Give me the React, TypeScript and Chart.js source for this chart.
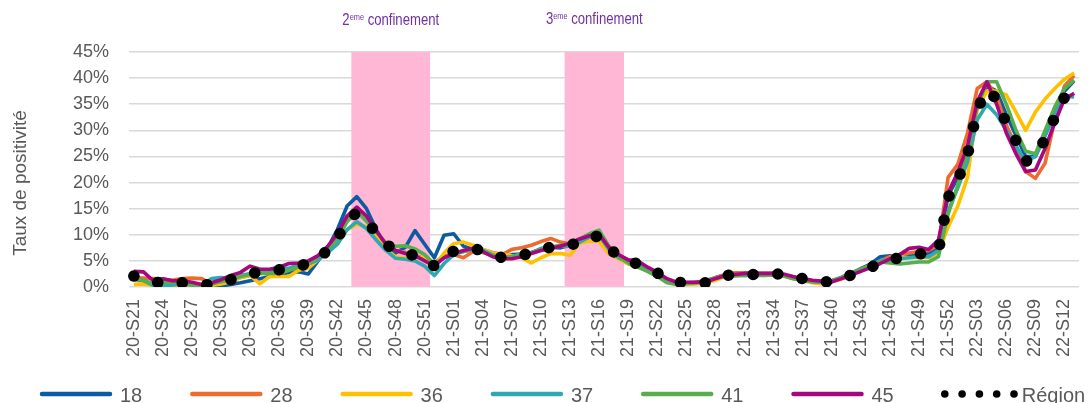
import React, { useEffect, useRef } from 'react';
import { Chart, registerables } from 'chart.js';

Chart.register(...registerables);

const weeks = [
  '20-S21','20-S22','20-S23','20-S24','20-S25','20-S26','20-S27','20-S28','20-S29','20-S30',
  '20-S31','20-S32','20-S33','20-S34','20-S35','20-S36','20-S37','20-S38','20-S39','20-S40',
  '20-S41','20-S42','20-S43','20-S44','20-S45','20-S46','20-S47','20-S48','20-S49','20-S50',
  '20-S51','20-S52','20-S53',
  '21-S01','21-S02','21-S03','21-S04','21-S05','21-S06','21-S07','21-S08','21-S09','21-S10',
  '21-S11','21-S12','21-S13','21-S14','21-S15','21-S16','21-S17','21-S18','21-S19','21-S20',
  '21-S21','21-S22','21-S23','21-S24','21-S25','21-S26','21-S27','21-S28','21-S29','21-S30',
  '21-S31','21-S32','21-S33','21-S34','21-S35','21-S36','21-S37','21-S38','21-S39','21-S40',
  '21-S41','21-S42','21-S43','21-S44','21-S45','21-S46','21-S47','21-S48','21-S49','21-S50',
  '21-S51','21-S52',
  '22-S01','22-S02','22-S03','22-S04','22-S05','22-S06','22-S07','22-S08','22-S09','22-S10',
  '22-S11','22-S12','22-S13'
];

const yTicks = [0, 5, 10, 15, 20, 25, 30, 35, 40, 45];
const yTitle = 'Taux de positivité';

const dep18 = [
  1.5,1.2,0.5,0.3,0.5,0.4,0.3,0.2,0.2,0.2,
  0.5,0.8,1.2,1.6,2.0,2.4,2.8,2.9,2.5,5.0,
  7.5,11.0,15.5,17.3,15.0,11.0,7.8,6.5,7.6,10.8,
  8.2,5.6,9.9,10.2,7.8,7.2,7.0,6.0,5.5,6.2,
  6.3,6.6,7.2,7.6,7.5,8.0,8.8,9.6,10.0,7.2,
  5.8,4.6,4.2,3.4,2.4,1.3,0.7,0.8,0.9,1.2,
  1.8,2.3,2.5,2.2,2.6,2.4,2.6,2.3,1.8,1.4,
  1.2,1.1,1.2,1.8,2.6,3.5,4.4,5.8,6.0,5.8,
  6.0,6.3,6.5,7.5,17.5,21.0,26.0,35.5,38.5,37.5,
  33.0,29.0,25.0,25.0,29.0,33.5,37.5,39.5
];
const dep28 = [
  1.8,1.7,1.6,1.5,1.3,1.6,1.7,1.6,0.5,0.8,
  1.2,1.8,2.2,2.6,2.8,3.2,3.3,3.8,4.6,5.8,
  7.6,9.8,13.0,14.6,13.2,10.6,8.0,7.0,6.6,6.2,
  5.3,4.6,6.0,6.2,5.6,6.8,7.2,6.6,6.2,7.2,
  7.5,8.0,8.7,9.3,8.6,8.3,9.2,9.8,10.0,7.5,
  6.0,5.2,4.4,3.4,2.4,1.3,0.6,0.6,0.9,1.2,
  1.8,2.4,2.7,2.7,2.6,2.6,2.6,2.3,1.9,1.5,
  1.2,1.0,1.1,1.7,2.5,3.2,4.0,5.0,5.8,6.2,
  6.5,6.8,7.0,8.0,21.0,23.5,29.5,38.0,39.3,36.5,
  31.0,27.0,22.1,20.8,23.7,32.0,38.5,40.5
];
const dep36 = [
  0.5,0.6,0.3,0.4,0.4,0.3,0.2,0.2,0.3,0.6,
  1.0,1.8,2.2,0.6,2.0,2.0,2.0,3.2,3.6,5.2,
  6.8,8.5,11.0,12.0,11.6,9.8,7.2,5.8,5.6,5.8,
  5.5,4.0,6.5,8.3,8.6,8.0,7.2,6.5,6.3,6.0,
  5.6,4.6,5.6,6.4,6.4,6.1,8.4,8.8,8.7,6.4,
  5.4,4.4,3.8,3.0,2.2,1.0,0.5,0.5,0.6,0.8,
  1.3,2.0,2.2,2.4,2.4,2.2,2.4,2.2,1.6,1.2,
  0.8,0.6,1.0,1.5,2.2,3.2,4.0,4.6,5.3,5.8,
  5.6,5.6,5.6,6.5,11.5,15.5,21.0,34.0,37.5,37.5,
  36.8,33.5,30.0,33.5,36.0,38.0,39.8,41.0
];
const dep37 = [
  1.8,1.2,0.3,0.2,0.4,0.6,0.4,0.2,1.6,1.8,
  1.6,2.2,2.6,2.8,3.0,3.6,3.6,4.2,4.4,5.2,
  6.6,8.2,11.0,12.5,11.2,9.0,7.0,5.5,5.3,5.0,
  4.0,2.2,4.5,6.2,6.8,7.2,7.0,6.2,5.5,5.8,
  6.4,6.5,7.4,7.6,7.8,7.8,8.6,9.6,10.0,7.2,
  5.6,4.8,4.2,3.4,2.4,1.2,0.6,0.7,0.8,1.0,
  1.6,2.2,2.4,2.3,2.4,2.4,2.4,2.2,1.7,1.3,
  1.0,0.9,1.0,1.7,2.5,3.3,4.2,5.0,5.2,5.4,
  5.6,5.8,5.8,7.0,14.5,19.0,24.0,32.0,35.0,33.0,
  30.0,27.0,24.0,25.0,29.0,33.0,36.5,36.4
];
const dep41 = [
  1.6,1.3,0.6,0.8,0.9,0.6,0.4,0.3,0.6,1.0,
  1.4,2.0,2.4,2.6,2.6,2.6,3.2,3.8,4.4,5.8,
  7.4,9.2,12.5,14.5,12.6,10.6,8.4,7.8,7.9,7.3,
  6.2,4.4,5.6,6.4,6.8,7.2,6.6,6.0,5.6,5.8,
  6.2,6.5,7.2,7.6,8.0,8.2,9.2,10.2,10.9,7.8,
  5.8,4.6,3.8,3.0,2.0,0.8,0.5,0.7,0.8,1.2,
  1.7,2.0,2.1,2.2,2.2,2.2,2.3,2.1,1.6,1.3,
  1.0,0.9,1.2,1.9,2.7,3.4,4.2,4.8,4.6,4.4,
  4.6,4.8,4.8,5.8,14.0,19.5,26.0,34.5,39.3,39.3,
  35.0,30.0,26.0,25.5,30.0,34.5,38.0,39.6
];
const dep45 = [
  3.0,2.9,1.2,1.6,1.2,1.2,0.9,0.5,0.8,1.4,
  2.2,2.8,4.0,3.4,3.4,3.8,4.5,4.6,5.0,6.0,
  7.8,10.2,13.6,15.3,13.6,10.8,8.2,7.0,6.4,6.0,
  5.0,4.0,5.6,6.4,7.0,7.4,6.8,5.8,5.4,5.4,
  5.8,6.4,7.0,7.4,7.8,8.4,9.2,9.8,10.1,7.6,
  6.2,5.2,5.0,3.8,2.8,1.6,0.9,0.9,0.9,1.0,
  1.6,2.2,2.4,2.6,2.6,2.6,2.6,2.5,2.0,1.6,
  1.3,1.1,1.0,1.6,2.3,3.0,3.7,4.5,5.4,6.2,
  7.4,7.6,7.2,9.0,18.0,22.0,27.0,35.5,39.3,35.0,
  29.5,25.5,22.1,22.4,26.5,31.5,36.0,37.1
];
const region = [
  2.1,1.6,1.0,0.7,0.9,0.8,0.6,0.4,0.5,0.9,
  1.4,2.0,2.5,2.9,3.1,3.3,3.5,3.9,4.6,5.6,
  7.0,9.3,12.8,14.2,12.6,10.4,8.1,7.2,6.5,6.0,
  5.5,4.0,5.6,6.9,7.2,7.3,7.0,6.3,5.6,5.8,
  6.1,6.5,7.3,7.6,7.9,8.1,8.4,9.4,9.8,7.4,
  6.0,5.0,4.4,3.6,2.7,1.5,0.9,0.8,0.8,0.8,
  1.5,2.2,2.4,2.4,2.4,2.5,2.5,2.5,2.0,1.6,
  1.3,1.0,1.0,1.6,2.3,3.0,3.8,4.5,5.2,5.6,
  5.9,6.3,6.6,6.9,17.1,20.5,25.3,34.0,37.8,36.0,
  31.3,28.0,24.0,25.5,28.2,32.5,36.3,38.7
];

const seriesNames = ['18', '28', '36', '37', '41', '45', 'Région'];
const seriesColors = ['#0B5AA2', '#ED6B2F', '#FFC000', '#2EA9B3', '#56AE4F', '#A6077E', '#000000'];
const seriesValues = [dep18, dep28, dep36, dep37, dep41, dep45, region];

const lockdownStarts = ['20-S44', '21-S13'];
const lockdownEnds = ['20-S51', '21-S18'];
const lockdownNumbers = ['2', '3'];
const lockdownSup = 'eme';
const lockdownWord = ' confinement';

const FONT = "'Liberation Sans', Arial, sans-serif";
const GREY = '#595959';

const bandValues = weeks.map((w) => {
  const i = weeks.indexOf(w);
  for (let k = 0; k < lockdownStarts.length; k++) {
    if (i >= weeks.indexOf(lockdownStarts[k]) && i <= weeks.indexOf(lockdownEnds[k])) return 45;
  }
  return null;
});

const overlayPlugin = {
  id: 'overlay',
  afterDraw(chart: any) {
    const ctx = chart.ctx as CanvasRenderingContext2D;
    const xs = chart.scales.x;

    // y axis title
    ctx.save();
    ctx.translate(21, 183);
    ctx.rotate(-Math.PI / 2);
    ctx.font = `19px ${FONT}`;
    ctx.fillStyle = GREY;
    ctx.textAlign = 'center';
    ctx.textBaseline = 'middle';
    ctx.fillText(yTitle, 0, 0);
    ctx.restore();

    // lockdown labels
    const narrow = 0.82;
    for (let k = 0; k < lockdownStarts.length; k++) {
      const a = xs.getPixelForValue(weeks.indexOf(lockdownStarts[k]));
      const b = xs.getPixelForValue(weeks.indexOf(lockdownEnds[k]));
      const center = (a + b) / 2;
      ctx.save();
      ctx.fillStyle = '#7030A0';
      ctx.textBaseline = 'alphabetic';
      ctx.textAlign = 'left';
      ctx.font = `16px ${FONT}`;
      const w1 = ctx.measureText(lockdownNumbers[k]).width;
      const w3 = ctx.measureText(lockdownWord).width;
      ctx.font = `9px ${FONT}`;
      const w2 = ctx.measureText(lockdownSup).width;
      const total = (w1 + w2 + w3) * narrow;
      const baseY = k === 0 ? 24.5 : 23.5;
      ctx.translate(center - total / 2, baseY);
      ctx.scale(narrow, 1);
      ctx.font = `16px ${FONT}`;
      ctx.fillText(lockdownNumbers[k], 0, 0);
      ctx.font = `9px ${FONT}`;
      ctx.fillText(lockdownSup, w1, -4.5);
      ctx.font = `16px ${FONT}`;
      ctx.fillText(lockdownWord, w1 + w2, 0);
      ctx.restore();
    }

    // legend
    const lines = chart.data.datasets.filter((d: any) => d.type !== 'bar');
    lines.forEach((d: any, i: number) => {
      const x0 = 40 + i * 150.3;
      const y = 394;
      ctx.save();
      if (d.borderDash && d.borderDash.length) {
        ctx.fillStyle = d.borderColor;
        for (let j = 0; j < 5; j++) {
          ctx.beginPath();
          ctx.arc(x0 + 3 + j * 17.3, y, 3.8, 0, Math.PI * 2);
          ctx.fill();
        }
      } else {
        ctx.strokeStyle = d.borderColor;
        ctx.lineWidth = 4.5;
        ctx.lineCap = 'round';
        ctx.beginPath();
        ctx.moveTo(x0 + 2, y);
        ctx.lineTo(x0 + 70, y);
        ctx.stroke();
      }
      ctx.fillStyle = GREY;
      ctx.font = `20px ${FONT}`;
      ctx.textAlign = 'left';
      ctx.textBaseline = 'alphabetic';
      ctx.fillText(d.label, x0 + 80, y + 7.5);
      ctx.restore();
    });
  },
};

export default function App() {
  const ref = useRef<HTMLCanvasElement | null>(null);

  useEffect(() => {
    document.body.style.margin = '0';
    const canvas = ref.current;
    if (!canvas) return;

    const lineSets = seriesNames.map((name, i) => {
      const isRegion = i === seriesNames.length - 1;
      return {
        type: 'line' as const,
        label: name,
        data: seriesValues[i],
        borderColor: seriesColors[i],
        backgroundColor: seriesColors[i],
        borderWidth: isRegion ? 11.5 : 3.6,
        borderDash: isRegion ? [0.1, 24.6] : [],
        borderCapStyle: isRegion ? ('round' as const) : ('butt' as const),
        borderJoinStyle: 'round' as const,
        pointRadius: 0,
        tension: 0,
        fill: false,
        order: isRegion ? 0 : seriesNames.length - i,
      };
    });

    const chart = new Chart(canvas, {
      type: 'line',
      data: {
        labels: weeks,
        datasets: [
          {
            type: 'bar' as const,
            label: 'confinement',
            data: bandValues as any,
            backgroundColor: '#FFB7D5',
            borderWidth: 0,
            barPercentage: 1,
            categoryPercentage: 1,
            inflateAmount: 0.6,
            order: 100,
          },
          ...lineSets,
        ] as any,
      },
      options: {
        responsive: false,
        animation: false,
        devicePixelRatio: 1,
        layout: { padding: { left: 0, right: 13, top: 52, bottom: 0 } },
        plugins: {
          legend: { display: false },
          tooltip: { enabled: false },
          title: { display: false },
        },
        scales: {
          x: {
            type: 'category',
            offset: true,
            grid: { display: false, drawTicks: false },
            border: { display: false },
            ticks: {
              autoSkip: false,
              minRotation: 90,
              maxRotation: 90,
              padding: 12,
              color: GREY,
              font: { size: 18, family: FONT },
              callback: (_v: any, idx: number) => (idx % 3 === 0 ? weeks[idx] : ''),
            },
            afterFit: (scale: any) => {
              scale.height = 116;
              scale.paddingLeft = 0;
              scale.paddingRight = 0;
            },
          },
          y: {
            min: yTicks[0],
            max: yTicks[yTicks.length - 1],
            afterBuildTicks: (scale: any) => {
              scale.ticks = yTicks.map((v) => ({ value: v }));
            },
            grid: { color: '#D9D9D9', lineWidth: 1.5, drawTicks: false },
            border: { display: false },
            ticks: {
              padding: 20,
              color: GREY,
              font: { size: 18, family: FONT },
              callback: (v: any) => `${v}%`,
            },
            afterFit: (scale: any) => {
              scale.width = 129;
              scale.paddingTop = 0;
              scale.paddingBottom = 0;
            },
          },
        },
      },
      plugins: [overlayPlugin],
    });

    return () => chart.destroy();
  }, []);

  return (
    <div style={{ width: 1092, height: 403 }}>
      <canvas ref={ref} width={1092} height={403} style={{ display: 'block', width: 1092, height: 403 }} />
    </div>
  );
}
